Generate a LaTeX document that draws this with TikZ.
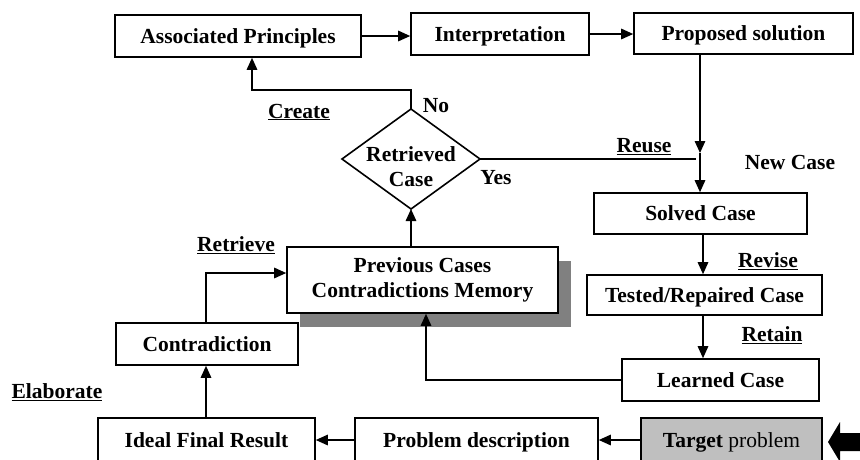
\documentclass[tikz,border=0pt]{standalone}
\usepackage{fontspec}
\setmainfont{Liberation Serif}
\usetikzlibrary{arrows.meta,calc}
\begin{document}
\begin{tikzpicture}[x=1pt,y=-1pt,
  box/.style={draw,line width=1.6pt,rectangle,inner sep=0pt,fill=white,
    font=\fontsize{21.5}{25}\selectfont\bfseries,align=center},
  one/.style={text height=15pt,text depth=1pt},
  lab/.style={inner sep=0pt,font=\fontsize{21.5}{25}\selectfont\bfseries},
  conn/.style={line width=1.4pt},
  arr/.style={conn,-{Triangle[length=12pt,width=10.5pt]}}]
\clip (0,0) rectangle (860,459);
\fill[white] (0,0) rectangle (860,459);
% boxes
\node[box,one,minimum width=246pt,minimum height=42pt] (AP) at (238,36) {Associated Principles};
\node[box,one,minimum width=178pt,minimum height=42pt] (INT) at (500,34) {Interpretation};
\node[box,one,minimum width=219pt,minimum height=41pt] (PS) at (743.5,33.5) {Proposed solution};
% diamond
\coordinate (dT) at (411,109);
\coordinate (dR) at (480,159);
\coordinate (dB) at (411,209);
\coordinate (dL) at (342,159);
\draw[line width=1.6pt] (dT) -- (dR) -- (dB) -- (dL) -- cycle;
\node[lab,align=center] (dia) at (411,167) {Retrieved\\Case};
% previous cases with shadow
\fill[black!50] (300,261) rectangle (571,327);
\node[box,minimum width=271pt,minimum height=66pt] (PC) at (422.5,280) {\raisebox{-5pt}{\begin{tabular}{@{}c@{}}Previous Cases\\Contradictions Memory\end{tabular}}};
\node[box,one,minimum width=182pt,minimum height=42pt] (CO) at (207,344) {Contradiction};
\node[box,one,minimum width=217pt,minimum height=44pt] (IF) at (206.5,440) {Ideal Final Result};
\node[box,one,minimum width=243pt,minimum height=44pt] (PD) at (476.5,440) {Problem description};
\node[box,one,fill=black!25,minimum width=181pt,minimum height=44pt] (TP) at (731.5,440) {Target {\mdseries problem}};
\node[box,one,minimum width=213pt,minimum height=41pt] (SC) at (700.5,213.5) {Solved Case};
\node[box,one,minimum width=235pt,minimum height=40pt] (TR) at (704.5,295) {Tested/Repaired Case};
\node[box,one,minimum width=197pt,minimum height=42pt] (LC) at (720.5,380) {Learned Case};
% big input arrow
\fill (828,442) -- (840,422) -- (840,433) -- (866,433) -- (866,451) -- (840,451) -- (840,462) -- cycle;
% connectors
\draw[arr] (AP.east) -- (AP.east -| INT.west);
\draw[arr] (INT.east) -- (INT.east -| PS.west);
\coordinate (c1) at (411,90);
\coordinate (c2) at (252,90);
\draw[arr] (dT) -- (c1) -- (c2) -- (c2 |- AP.south);
\draw[arr] (PC.north -| dB) -- (dB);
\coordinate (rEnd) at (696,159);
\draw[conn] (dR) -- (rEnd);
\coordinate (nc) at (700,153);
\draw[arr] (PS.south -| nc) -- (nc);
\draw[arr] (nc) -- (nc |- SC.north);
\coordinate (vx) at (703,0);
\draw[arr] (SC.south -| vx) -- (TR.north -| vx);
\draw[arr] (TR.south -| vx) -- (LC.north -| vx);
\coordinate (lc1) at (426,380);
\draw[arr] (LC.west) -- (lc1) -- (lc1 |- PC.south);
\coordinate (co1) at (206,273);
\draw[arr] (CO.north -| co1) -- (co1) -- (co1 -| PC.west);
\draw[arr] (IF.north -| co1) -- (CO.south -| co1);
\draw[arr] (PD.west) -- (IF.east);
\draw[arr] (TP.west) -- (PD.east);
% labels
\node[lab] (create) at (299,112) {\underline{Create}};
\node[lab] (no) at (436,106) {No};
\node[lab] (reuse) at (644,147) {\underline{Reuse}};
\node[lab] (yes) at (496,178) {Yes};
\node[lab] (newcase) at (790,162) {New Case};
\node[lab] (retrieve) at (236,245) {\underline{Retrieve}};
\node[lab] (revise) at (768,261) {\underline{Revise}};
\node[lab] (retain) at (772,335) {\underline{Retain}};
\node[lab] (elab) at (57,392) {\underline{Elaborate}};
\end{tikzpicture}
\end{document}
